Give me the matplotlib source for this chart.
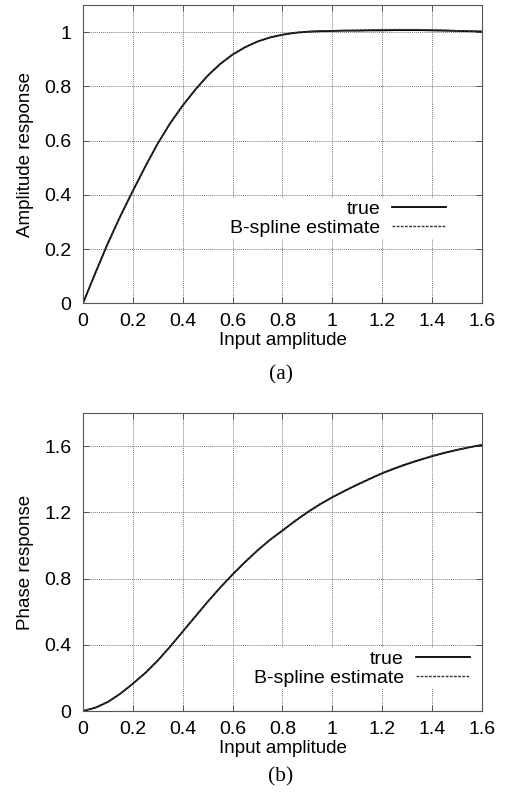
import matplotlib
matplotlib.use("Agg")
import matplotlib.pyplot as plt

plt.rcParams['font.family'] = ['Liberation Sans', 'DejaVu Sans']

x_in = [0.0, 0.05, 0.1, 0.15, 0.2, 0.25, 0.3, 0.35, 0.4, 0.45, 0.5, 0.55, 0.6,
        0.65, 0.7, 0.75, 0.8, 0.85, 0.9, 0.95, 1.0, 1.05, 1.1, 1.15, 1.2, 1.25,
        1.3, 1.35, 1.4, 1.45, 1.5, 1.55, 1.6]

amp_true = [0.0, 0.113, 0.222, 0.322, 0.415, 0.505, 0.59, 0.665, 0.73, 0.788, 0.84,
            0.883, 0.918, 0.945, 0.966, 0.981, 0.991, 0.998, 1.002, 1.004, 1.005,
            1.006, 1.006, 1.007, 1.007, 1.008, 1.008, 1.008, 1.007, 1.006, 1.005,
            1.004, 1.003]
amp_est = [0.0, 0.111, 0.220, 0.321, 0.414, 0.504, 0.589, 0.664, 0.729, 0.787, 0.839,
           0.882, 0.917, 0.944, 0.966, 0.981, 0.992, 0.999, 1.003, 1.005, 1.006,
           1.007, 1.008, 1.009, 1.010, 1.010, 1.010, 1.010, 1.009, 1.008, 1.006,
           1.004, 1.002]

phase_true = [0.0, 0.02, 0.055, 0.105, 0.165, 0.23, 0.305, 0.39, 0.48, 0.57, 0.66,
              0.745, 0.825, 0.90, 0.97, 1.034, 1.09, 1.147, 1.2, 1.248, 1.291, 1.33,
              1.367, 1.402, 1.436, 1.465, 1.492, 1.516, 1.539, 1.559, 1.577, 1.593, 1.607]
phase_est = [0.0, 0.021, 0.056, 0.106, 0.166, 0.231, 0.306, 0.391, 0.481, 0.571, 0.661,
             0.746, 0.826, 0.901, 0.971, 1.035, 1.092, 1.149, 1.202, 1.250, 1.293, 1.332,
             1.369, 1.404, 1.438, 1.468, 1.495, 1.519, 1.541, 1.561, 1.578, 1.594, 1.607]

x_ticks = [0, 0.2, 0.4, 0.6, 0.8, 1, 1.2, 1.4, 1.6]
x_ticklabels = ['0', '0.2', '0.4', '0.6', '0.8', '1', '1.2', '1.4', '1.6']
amp_ticks = [0, 0.2, 0.4, 0.6, 0.8, 1]
amp_ticklabels = ['0', '0.2', '0.4', '0.6', '0.8', '1']
phase_ticks = [0, 0.4, 0.8, 1.2, 1.6]
phase_ticklabels = ['0', '0.4', '0.8', '1.2', '1.6']

fig = plt.figure(figsize=(5.05, 8.0), dpi=100)
ax1 = fig.add_axes([0.1644, 0.621, 0.790, 0.3725])
ax2 = fig.add_axes([0.1644, 0.11125, 0.790, 0.3725])

def style(ax, yticks, ylabels, ylim, ylabel):
    ax.set_xlim(0, 1.6)
    ax.set_ylim(*ylim)
    ax.set_xticks(x_ticks)
    ax.set_xticklabels(x_ticklabels)
    ax.set_yticks(yticks)
    ax.set_yticklabels(ylabels)
    ax.grid(True, color='#7a7a7a', linestyle=(0, (1, 1)), linewidth=0.7)
    ax.set_axisbelow(True)
    ax.tick_params(direction='in', length=4, width=0.6, labelsize=14,
                   top=True, right=True, color='#444444')
    ax.tick_params(axis='x', pad=7)
    ax.tick_params(axis='y', pad=8.5)
    for s in ax.spines.values():
        s.set_color('#555555')
        s.set_linewidth(0.8)
    ax.set_xlabel('Input amplitude', fontsize=13.5)
    ax.set_ylabel(ylabel, fontsize=13.5)
    ax.xaxis.set_label_coords(0.5, -0.098)
    ax.yaxis.set_label_coords(-0.123, 0.5)

def make_legend(ax, anchor):
    leg = ax.legend(loc='lower right', bbox_to_anchor=anchor, markerfirst=False,
                    fontsize=14, handlelength=2.8, frameon=True, fancybox=False,
                    borderpad=0.1, labelspacing=0.08, handletextpad=0.6,
                    borderaxespad=0)
    leg.get_frame().set_edgecolor('none')
    leg.get_frame().set_facecolor('white')
    leg.get_frame().set_alpha(1)
    leg.get_frame().set_linewidth(0)
    return leg

ax1.plot(x_in, amp_true, color='black', linewidth=1.3, label='true')
ax1.plot(x_in, amp_est, color='#333333', linewidth=1.0, linestyle=(0, (2, 1)),
         label='B-spline estimate')
style(ax1, amp_ticks, amp_ticklabels, (0, 1.1), 'Amplitude response')
make_legend(ax1, (0.915, 0.215))

ax2.plot(x_in, phase_true, color='black', linewidth=1.3, label='true')
ax2.plot(x_in, phase_est, color='#333333', linewidth=1.0, linestyle=(0, (2, 1)),
         label='B-spline estimate')
style(ax2, phase_ticks, phase_ticklabels, (0, 1.8), 'Phase response')
make_legend(ax2, (0.975, 0.074))

fig.text(281 / 505, 1 - 375 / 800, '(a)', ha='center', va='center', fontsize=15.5,
         family=['Liberation Serif', 'DejaVu Serif'])
fig.text(281 / 505, 1 - 777 / 800, '(b)', ha='center', va='center', fontsize=15.5,
         family=['Liberation Serif', 'DejaVu Serif'])

fig.savefig('out.png', dpi=100)
